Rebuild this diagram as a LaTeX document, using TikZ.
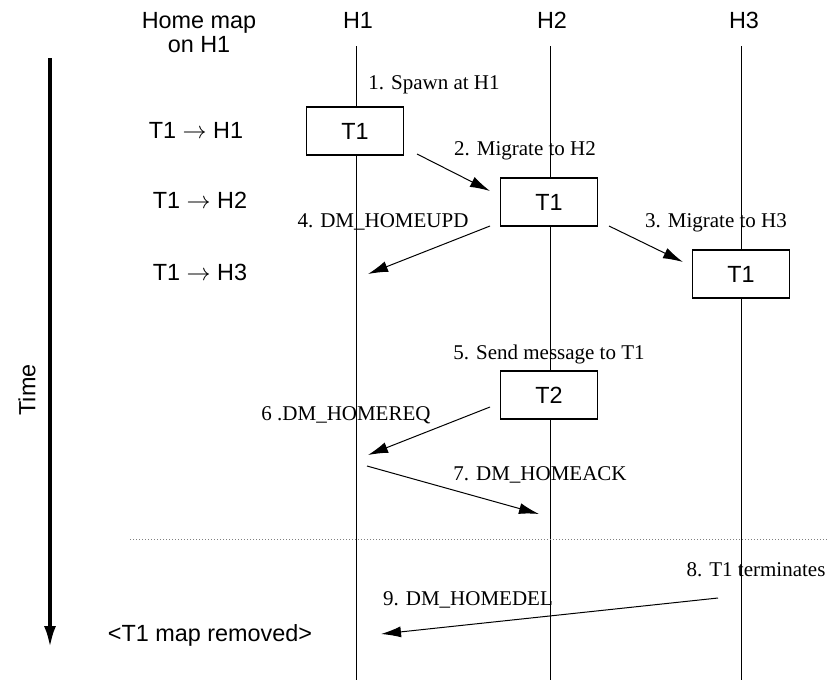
\documentclass[tikz,border=0pt]{standalone}
\usepackage{fontspec}
\setmainfont{Liberation Serif}
\setsansfont{Liberation Sans}
\usetikzlibrary{arrows.meta}

\begin{document}
\begin{tikzpicture}[x=0.5pt,y=-0.5pt]
\tikzset{sanstext/.style={font=\sffamily\fontsize{11.7}{12}\selectfont},
  taskbox/.style={sanstext,draw,fill=white,line width=0.6pt,inner sep=0pt,
    minimum width=48.5pt,minimum height=24pt},
  msglabel/.style={font=\fontsize{10.5}{12}\selectfont,inner sep=1pt},
  msg/.style={-{Latex[length=10pt,width=5.5pt]},line width=0.5pt},
  lifeline/.style={line width=0.5pt}}
\useasboundingbox (0,0) rectangle (829,680);

% host columns
\node[sanstext,align=center] (map) at (199,33) {Home map\\on H1};
\node[sanstext] (h1) at (358,20) {H1};
\node[sanstext] (h2) at (552,20) {H2};
\node[sanstext] (h3) at (744,20) {H3};
\coordinate (h1top) at (356,46);
\coordinate (h1bot) at (356,680);
\coordinate (h2top) at (550,46);
\coordinate (h2bot) at (550,680);
\coordinate (h3top) at (741,46);
\coordinate (h3bot) at (741,680);
\draw[lifeline] (h1top) -- (h1bot);
\draw[lifeline] (h2top) -- (h2bot);
\draw[lifeline] (h3top) -- (h3bot);

% time axis
\coordinate (tstart) at (50,58);
\coordinate (tend) at (50,648);
\draw[line width=1.9pt,-{Latex[length=11pt,width=6pt]}] (tstart) -- (tend);
\node[sanstext,rotate=90] (time) at (27,390) {Time};

% tasks
\node[taskbox] (t1a) at (355,131) {T1};
\node[taskbox] (t1b) at (549,202) {T1};
\node[taskbox] (t1c) at (741,274) {T1};
\node[taskbox] (t2) at (549,395) {T2};

% home map entries
\node[sanstext] (map1) at (196,130) {T1 $\rightarrow$ H1};
\node[sanstext] (map2) at (200,200) {T1 $\rightarrow$ H2};
\node[sanstext] (map3) at (200,272) {T1 $\rightarrow$ H3};
\node[sanstext] (mapdel) at (210,635) {<T1 map removed>};

% messages
\coordinate (m2a) at (417,154);
\coordinate (m2b) at (490,191);
\coordinate (m3a) at (609,226);
\coordinate (m3b) at (683,262);
\coordinate (m4a) at (490,226);
\coordinate (m4b) at (368,274);
\coordinate (m6a) at (490,407);
\coordinate (m6b) at (368,455);
\coordinate (m7a) at (367,466);
\coordinate (m7b) at (539,514);
\coordinate (m9a) at (718,598);
\coordinate (m9b) at (381,634);
\draw[msg] (m2a) -- (m2b);
\draw[msg] (m3a) -- (m3b);
\draw[msg] (m4a) -- (m4b);
\draw[msg] (m6a) -- (m6b);
\draw[msg] (m7a) -- (m7b);
\draw[msg] (m9a) -- (m9b);

\node[msglabel] (l1) at (434,85) {1. Spawn at H1};
\node[msglabel] (l2) at (525,151) {2. Migrate to H2};
\node[msglabel] (l3) at (716,223) {3. Migrate to H3};
\node[msglabel] (l4) at (383,222) {4. DM\_HOMEUPD};
\node[msglabel] (l5) at (549,354) {5. Send message to T1};
\node[msglabel] (l6) at (346,415) {6 .DM\_HOMEREQ};
\node[msglabel] (l7) at (540,475) {7. DM\_HOMEACK};
\node[msglabel] (l8) at (756,570) {8. T1 terminates};
\node[msglabel] (l9) at (468,600) {9. DM\_HOMEDEL};

% end of migrations
\coordinate (sepl) at (130,539);
\coordinate (sepr) at (829,539);
\draw[gray,densely dotted,line width=0.5pt] (sepl) -- (sepr);
\end{tikzpicture}
\end{document}
